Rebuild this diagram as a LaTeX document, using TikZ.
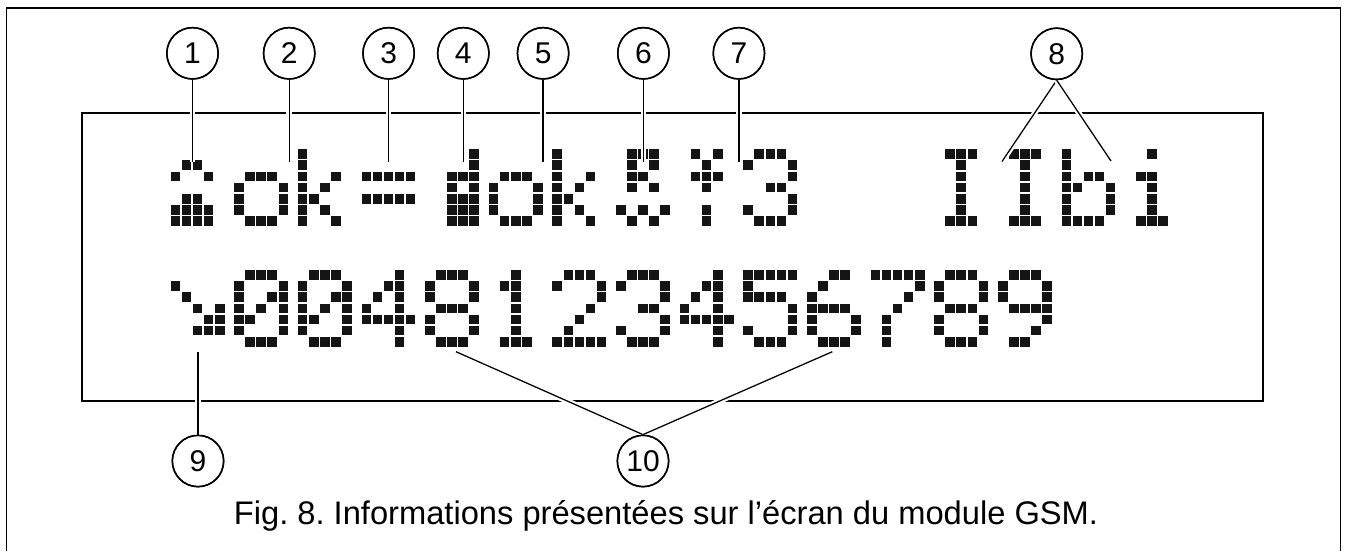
\documentclass[tikz,border=0pt]{standalone}
\usepackage{fontspec}
\setmainfont{Liberation Sans}
\frenchspacing
% glyph bitmaps: column/row pairs in a 5x7 cell
\def\gA{2/2,3/2,1/3,4/3,2/5,3/5,1/6,2/6,3/6,4/6,1/7,2/7,3/7,4/7}
\def\gO{2/3,3/3,4/3,1/4,5/4,1/5,5/5,1/6,5/6,2/7,3/7,4/7}
\def\gK{1/1,1/2,1/3,4/3,1/4,3/4,1/5,2/5,1/6,3/6,1/7,4/7}
\def\gEq{1/3,2/3,3/3,4/3,5/3,1/5,2/5,3/5,4/5,5/5}
\def\gD{5/1,5/2,3/3,4/3,5/3,3/4,5/4,3/5,4/5,5/5,3/6,4/6,5/6,3/7,4/7,5/7}
\def\gR{2/1,3/1,4/1,2/2,4/2,2/3,3/3,2/4,4/4,1/6,3/6,5/6,2/7,4/7}
\def\gY{2/1,4/1,3/2,2/3,3/3,4/3,3/4,3/6,3/7}
\def\gThree{2/1,3/1,4/1,1/2,5/2,5/3,3/4,4/4,5/5,1/6,5/6,2/7,3/7,4/7}
\def\gI{2/1,3/1,4/1,3/2,3/3,3/4,3/5,3/6,2/7,3/7,4/7}
\def\gB{1/1,1/2,1/3,3/3,4/3,1/4,2/4,5/4,1/5,5/5,1/6,5/6,1/7,2/7,3/7,4/7}
\def\gSmallI{3/1,2/3,3/3,3/4,3/5,3/6,2/7,3/7,4/7}
\def\gArrow{1/2,2/3,3/4,5/4,4/5,5/5,3/6,4/6,5/6}
\def\gZero{2/1,3/1,4/1,1/2,5/2,1/3,4/3,5/3,1/4,3/4,5/4,1/5,2/5,5/5,1/6,5/6,2/7,3/7,4/7}
\def\gFour{4/1,3/2,4/2,2/3,4/3,1/4,4/4,1/5,2/5,3/5,4/5,5/5,4/6,4/7}
\def\gEight{2/1,3/1,4/1,1/2,5/2,1/3,5/3,2/4,3/4,4/4,1/5,5/5,1/6,5/6,2/7,3/7,4/7}
\def\gOne{3/1,2/2,3/2,3/3,3/4,3/5,3/6,2/7,3/7,4/7}
\def\gTwo{2/1,3/1,4/1,1/2,5/2,5/3,4/4,3/5,2/6,1/7,2/7,3/7,4/7,5/7}
\def\gFive{1/1,2/1,3/1,4/1,5/1,1/2,1/3,2/3,3/3,4/3,5/4,5/5,1/6,5/6,2/7,3/7,4/7}
\def\gSix{3/1,4/1,2/2,1/3,1/4,2/4,3/4,4/4,1/5,5/5,1/6,5/6,2/7,3/7,4/7}
\def\gSeven{1/1,2/1,3/1,4/1,5/1,5/2,4/3,3/4,2/5,2/6,2/7}
\def\gNine{2/1,3/1,4/1,1/2,5/2,1/3,5/3,2/4,3/4,4/4,5/4,5/5,4/6,2/7,3/7}
\newcommand\lcdglyph[3]{%
  \foreach \cc/\rr in #3 {%
    \fill[lcdpix] ({170.6+63.64*#1+11.08*(\cc-1)},{#2+11.17*(\rr-1)}) rectangle ++(9.6,9.6);}}
\begin{document}
\begin{tikzpicture}[x=0.75pt,y=-0.75pt,
  lcdpix/.style={fill=black!92},
  frame/.style={draw=black, line width=1.4pt},
  disp/.style={draw=black, line width=1.5pt},
  conn/.style={draw=black, line width=0.95pt,
    preaction={draw=white, line width=4.2pt}},
  lbl/.style={circle, draw=black, line width=1.1pt, minimum size=38.5pt,
    inner sep=0pt, font=\fontsize{22.5}{27}\selectfont},
  caption/.style={font=\fontsize{24.5}{29}\selectfont, inner sep=0pt}]
\useasboundingbox (0,0) rectangle (1347,551);
% outer frame and display
\draw[frame] (6.5,551) -- (6.5,8) -- (1340.5,8) -- (1340.5,551);
\draw[disp] (81.5,113) rectangle (1262.5,401);
% top line
\lcdglyph{0}{149.3}{\gA}
\lcdglyph{1}{149.3}{\gO}
\lcdglyph{2}{149.3}{\gK}
\lcdglyph{3}{149.3}{\gEq}
\lcdglyph{4}{149.3}{\gD}
\lcdglyph{5}{149.3}{\gO}
\lcdglyph{6}{149.3}{\gK}
\lcdglyph{7}{149.3}{\gR}
\lcdglyph{8}{149.3}{\gY}
\lcdglyph{9}{149.3}{\gThree}
\lcdglyph{12}{149.3}{\gI}
\lcdglyph{13}{149.3}{\gI}
\lcdglyph{14}{149.3}{\gB}
\lcdglyph{15}{149.3}{\gSmallI}
% bottom line
\lcdglyph{0}{270}{\gArrow}
\lcdglyph{1}{270}{\gZero}
\lcdglyph{2}{270}{\gZero}
\lcdglyph{3}{270}{\gFour}
\lcdglyph{4}{270}{\gEight}
\lcdglyph{5}{270}{\gOne}
\lcdglyph{6}{270}{\gTwo}
\lcdglyph{7}{270}{\gThree}
\lcdglyph{8}{270}{\gFour}
\lcdglyph{9}{270}{\gFive}
\lcdglyph{10}{270}{\gSix}
\lcdglyph{11}{270}{\gSeven}
\lcdglyph{12}{270}{\gEight}
\lcdglyph{13}{270}{\gNine}
% label circles
\node[lbl] (c1) at (192.5,53.3) {1};
\node[lbl] (c2) at (289.2,53.3) {2};
\node[lbl] (c3) at (388.6,53.3) {3};
\node[lbl] (c4) at (463.3,53.3) {4};
\node[lbl] (c5) at (543.1,53.3) {5};
\node[lbl] (c6) at (643.4,53.3) {6};
\node[lbl] (c7) at (738.9,53.3) {7};
\node[lbl] (c8) at (1056.7,53.8) {8};
\node[lbl] (c9) at (198,461) {9};
\node[lbl] (c10) at (643,461) {10};
% connector ends
\coordinate (e1) at (192.5,162.3);
\coordinate (e2) at (289.2,162.3);
\coordinate (e3) at (388.6,162.3);
\coordinate (e4) at (463.3,162.3);
\coordinate (e5) at (543.1,162.3);
\coordinate (e6) at (643.4,162.3);
\coordinate (e7) at (738.9,162.3);
\coordinate (e8a) at (1002,161.5);
\coordinate (e8b) at (1111,161);
\coordinate (e9) at (198,351.7);
\coordinate (e10a) at (456,351.7);
\coordinate (e10b) at (832.3,351.7);
% connectors
\draw[conn] (c1.south) -- (e1);
\draw[conn] (c2.south) -- (e2);
\draw[conn] (c3.south) -- (e3);
\draw[conn] (c4.south) -- (e4);
\draw[conn] (c5.south) -- (e5);
\draw[conn] (c6.south) -- (e6);
\draw[conn] (c7.south) -- (e7);
\draw[conn] (c8.south) -- (e8a);
\draw[conn] (c8.south) -- (e8b);
\draw[conn] (c9.north) -- (e9);
\draw[conn] (c10.north) -- (e10a);
\draw[conn] (c10.north) -- (e10b);
% redraw circles over halos
\foreach \n in {c1,c2,c3,c4,c5,c6,c7,c8,c9,c10}
  \draw[black, line width=1.1pt] (\n) circle [radius=19.25pt];
% caption
\node[caption, anchor=base] (cap) at (666,524) {Fig. 8. Informations présentées sur l’écran du module GSM.};
\end{tikzpicture}
\end{document}
